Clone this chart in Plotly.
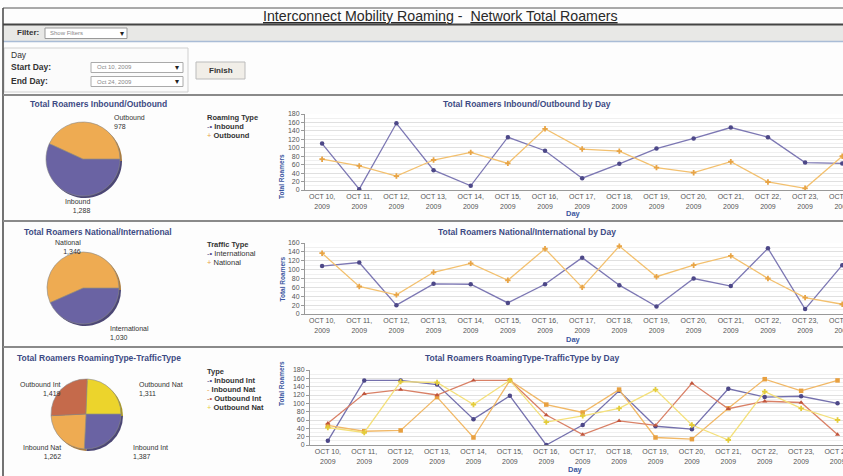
import plotly.graph_objects as go

W, H = 843, 476

# ---------------- data ----------------
day_labels = ["OCT 10,<br>2009", "OCT 11,<br>2009", "OCT 12,<br>2009", "OCT 13,<br>2009",
              "OCT 14,<br>2009", "OCT 15,<br>2009", "OCT 16,<br>2009", "OCT 17,<br>2009",
              "OCT 18,<br>2009", "OCT 19,<br>2009", "OCT 20,<br>2009", "OCT 21,<br>2009",
              "OCT 22,<br>2009", "OCT 23,<br>2009", "OCT 24,<br>2009"]

inbound = [110, 2, 158, 47, 10, 125, 93, 28, 62, 98, 122, 148, 125, 65, 63]
outbound = [73, 57, 33, 71, 89, 63, 145, 97, 92, 53, 41, 67, 19, 4, 80]

international = [108, 116, 20, 68, 67, 25, 67, 127, 65, 17, 80, 63, 148, 11, 110]
national = [137, 62, 43, 94, 114, 76, 147, 60, 153, 84, 110, 131, 80, 37, 22]

inbound_int = [10, 155, 155, 145, 62, 118, 0, 48, 130, 45, 38, 135, 115, 117, 100]
inbound_nat = [47, 33, 35, 115, 18, 155, 97, 78, 133, 18, 14, 88, 158, 130, 155]
outbound_int = [52, 123, 133, 120, 155, 155, 72, 25, 58, 47, 148, 87, 105, 102, 25]
outbound_nat = [42, 30, 152, 150, 97, 155, 55, 70, 88, 133, 48, 12, 128, 88, 60]

roaming_types = ["Inbound", "Outbound"]
roaming_totals = [1288, 978]
traffic_types = ["International", "National"]
traffic_totals = [1030, 1346]
combo_types = ["Inbound Int", "Inbound Nat", "Outbound Int", "Outbound Nat"]
combo_totals = [1387, 1262, 1419, 1311]

# ---------------- styling ----------------
FONT = "Liberation Sans"
PURPLE = "#6a63a3"
ORANGE = "#eeab52"
RED = "#c56a4b"
YELLOW = "#ecd42c"
NAVY = "#3d4b84"
BLUE = "#3a56a0"


def px(x):
    return x / W


def py(y):
    return 1 - y / H


def darker(hexc, f=0.75):
    h = hexc.lstrip("#")
    r, g, b = int(h[0:2], 16), int(h[2:4], 16), int(h[4:6], 16)
    return "#%02x%02x%02x" % (int(r * f), int(g * f), int(b * f))


fig = go.Figure()
annotations = []
shapes = []


def text(x, y, s, size=8, color="#333", bold=False, xanchor="left", align="left"):
    if bold:
        s = "<b>" + s + "</b>"
    annotations.append(dict(x=px(x), y=py(y), xref="paper", yref="paper", text=s,
                            showarrow=False, xanchor=xanchor, yanchor="middle", align=align,
                            font=dict(family=FONT, size=size, color=color)))


def rect(x0, y0, x1, y1, fill=None, line=None, lw=1):
    shapes.append(dict(type="rect", xref="paper", yref="paper",
                       x0=px(x0), x1=px(x1), y0=py(y1), y1=py(y0),
                       fillcolor=fill if fill else "rgba(0,0,0,0)",
                       line=dict(color=line if line else "rgba(0,0,0,0)", width=lw if line else 0),
                       layer="below"))


def hline(x0, x1, y, color, w):
    shapes.append(dict(type="line", xref="paper", yref="paper", x0=px(x0), x1=px(x1),
                       y0=py(y), y1=py(y), line=dict(color=color, width=w)))


def vline(x, y0, y1, color, w):
    shapes.append(dict(type="line", xref="paper", yref="paper", x0=px(x), x1=px(x),
                       y0=py(y0), y1=py(y1), line=dict(color=color, width=w)))


# ---------------- frame / header ----------------
rect(3, 25, 843, 41, fill="#e8e8e6")
hline(3, 843, 8, "#555", 1)
hline(3, 843, 24.5, "#444", 2)
hline(3, 843, 41.5, "#a9bcd6", 1.5)
vline(3, 8, 476, "#444", 1.5)
text(440, 16.5,
     '<span style="text-decoration:underline">Interconnect Mobility Roaming</span> -  '
     '<span style="text-decoration:underline">Network Total Roamers</span>',
     size=14.2, color="#2a2a2a", xanchor="center")

# filter bar
text(15, 33, "Filter:", size=8, bold=True, color="#333")
rect(45, 28, 127, 38.5, fill="white", line="#999")
text(48, 33.3, "Show Filters", size=6, color="#888")
text(122, 33.5, "▾", size=8, color="#222", xanchor="center")

# day box
rect(4, 48, 188, 92, fill="#fbfbfb", line="#cfcfcf")
text(9, 55, "Day", size=8.5, color="#333")
text(9, 67, "Start Day:", size=8.5, bold=True, color="#333")
text(9, 81, "End Day:", size=8.5, bold=True, color="#333")
rect(91, 62.5, 183, 72.5, fill="white", line="#aaa")
rect(91, 76.5, 183, 86.5, fill="white", line="#aaa")
text(95, 67.5, "Oct 10, 2009", size=6, color="#888")
text(95, 81.5, "Oct 24, 2009", size=6, color="#888")
text(177, 67.5, "▾", size=8, color="#222", xanchor="center")
text(177, 81.5, "▾", size=8, color="#222", xanchor="center")
rect(196, 62, 245, 79, fill="#f1eee8", line="#bbb")
text(220.5, 70.5, "Finish", size=8, bold=True, color="#333", xanchor="center")

# panel separators
for yy in (95, 221, 347):
    hline(3, 843, yy, "#8a8a8a", 2)


# ---------------- pies ----------------
def add_pie(labels, values, colors, cx, cy, r):
    # soft shadow rim
    fig.add_trace(go.Pie(labels=labels, values=values, sort=False, direction="clockwise",
                         rotation=90, textinfo="none", hoverinfo="skip",
                         marker=dict(colors=[darker(c, 0.72) for c in colors],
                                     line=dict(width=0)),
                         domain=dict(x=[px(cx - r + 2), px(cx + r + 2)],
                                     y=[py(cy + r + 2), py(cy - r + 2)]),
                         showlegend=False))
    fig.add_trace(go.Pie(labels=labels, values=values, sort=False, direction="clockwise",
                         rotation=90, textinfo="none",
                         marker=dict(colors=colors, line=dict(color="#888", width=0.6)),
                         domain=dict(x=[px(cx - r), px(cx + r)],
                                     y=[py(cy + r), py(cy - r)]),
                         showlegend=False))


add_pie(roaming_types, roaming_totals, [PURPLE, ORANGE], 83, 159, 37)
add_pie(traffic_types, traffic_totals, [PURPLE, ORANGE], 83, 288, 36)
add_pie(combo_types, combo_totals, [PURPLE, ORANGE, RED, YELLOW], 86, 414, 35)


def fmt(v):
    return f"{v:,}"


PL = 7
# pie 1 labels
text(112, 122, f"{roaming_types[1]}<br>{fmt(roaming_totals[1])}", size=PL, color="#333")
text(77, 206, f"{roaming_types[0]}<br>{fmt(roaming_totals[0])}", size=PL, color="#333",
     xanchor="center", align="right")
# pie 2 labels
text(68, 246.5, f"{traffic_types[1]}<br>{fmt(traffic_totals[1])}", size=PL, color="#333",
     xanchor="center", align="right")
text(108, 332.5, f"{traffic_types[0]}<br>{fmt(traffic_totals[0])}", size=PL, color="#333")
# pie 3 labels
text(63, 389, f"{combo_types[2]}<br>{fmt(combo_totals[2])}", size=PL, color="#333",
     xanchor="right", align="right")
text(137, 389, f"{combo_types[3]}<br>{fmt(combo_totals[3])}", size=PL, color="#333")
text(63, 452, f"{combo_types[1]}<br>{fmt(combo_totals[1])}", size=PL, color="#333",
     xanchor="right", align="right")
text(131, 452, f"{combo_types[0]}<br>{fmt(combo_totals[0])}", size=PL, color="#333")

# pie titles
text(28, 103.5, "Total Roamers Inbound/Outbound", size=8.5, bold=True, color=NAVY)
text(22, 231.5, "Total Roamers National/International", size=8.5, bold=True, color=NAVY)
text(15, 357.5, "Total Roamers RoamingType-TrafficType", size=8.5, bold=True, color=NAVY)


# legends (compact, as in the source dashboard)
def legend(x, y0, title, names, colors, symbols, bold_items, step=9.2):
    text(x, y0, title, size=7.5, bold=True, color="#333")
    for i, (n, c, s) in enumerate(zip(names, colors, symbols)):
        lab = f"<b>{n}</b>" if bold_items else n
        text(x, y0 + step * (i + 1),
             f'<span style="color:{c}">{s}</span> {lab}', size=7.5, color="#333")


legend(205, 117.5, "Roaming Type", roaming_types, ["#4d4888", "#e8a445"],
       ["-•", "+"], True)
legend(205, 244.5, "Traffic Type", traffic_types, ["#4d4888", "#e8a445"],
       ["-•", "+"], False)
legend(205, 371.5, "Type", combo_types, ["#4d4888", "#e8a040", "#c0553c", "#e8cf3a"],
       ["-•", "-", "-•", "+"], True, step=9.0)

# ---------------- line charts ----------------
x_idx = list(range(len(day_labels)))


def add_line(y, name, lc, mc, sym, axis):
    fig.add_trace(go.Scatter(x=x_idx, y=y, name=name, mode="lines+markers",
                             line=dict(color=lc, width=1.3),
                             marker=dict(color=mc, size=4.5, symbol=sym),
                             xaxis="x" + axis, yaxis="y" + axis, showlegend=False,
                             cliponaxis=True))


add_line(inbound, "Inbound", "#7c77b3", "#4d4888", "circle", "")
add_line(outbound, "Outbound", "#f3c06e", "#e8a445", "cross", "")
add_line(international, "International", "#7c77b3", "#4d4888", "circle", "2")
add_line(national, "National", "#f3c06e", "#e8a445", "cross", "2")
add_line(inbound_int, "Inbound Int", "#7470ad", "#4d4888", "circle", "3")
add_line(inbound_nat, "Inbound Nat", "#f1b866", "#e8a040", "square", "3")
add_line(outbound_int, "Outbound Int", "#d98066", "#c0553c", "triangle-up", "3")
add_line(outbound_nat, "Outbound Nat", "#f4e07a", "#e3cc3a", "cross", "3")

tickfont = dict(family=FONT, size=7, color="#555")


def xaxis(x0, rng, anchor):
    return dict(domain=[px(x0), 1], range=rng, tickmode="array", tickvals=x_idx,
                ticktext=day_labels, tickfont=tickfont, showgrid=False, zeroline=False,
                showline=True, linecolor="#999", linewidth=1, ticks="", anchor=anchor,
                ticklabeloverflow="allow", automargin=False, fixedrange=True)


def yaxis(y0, y1, top, anchor):
    return dict(domain=[py(y0), py(y1)], range=[0, top], dtick=20, tickfont=tickfont,
                showgrid=True, gridcolor="#e0e0e0", gridwidth=1, zeroline=False,
                minor=dict(dtick=10, showgrid=True, gridcolor="#f0f0f0", gridwidth=1),
                showline=True, linecolor="#999", linewidth=1, ticks="outside",
                ticklen=3, tickcolor="#999", anchor=anchor, automargin=False,
                fixedrange=True)


layout_axes = dict(
    xaxis=xaxis(305, [-0.46, 14.02], "y"),
    yaxis=yaxis(190, 114, 180, "x"),
    xaxis2=xaxis(305, [-0.46, 14.02], "y2"),
    yaxis2=yaxis(314, 243, 160, "x2"),
    xaxis3=xaxis(310, [-0.49, 14.15], "y3"),
    yaxis3=yaxis(445, 370, 180, "x3"),
)

# chart titles and axis titles
text(527, 103.5, "Total Roamers Inbound/Outbound by Day", size=8.5, bold=True, color=NAVY,
     xanchor="center")
text(527, 231.5, "Total Roamers National/International by Day", size=8.5, bold=True, color=NAVY,
     xanchor="center")
text(522, 358, "Total Roamers RoamingType-TrafficType by Day", size=8.5, bold=True, color=NAVY,
     xanchor="center")
for ymid in (152, 279, 408):
    annotations.append(dict(x=px(276), y=py(ymid), xref="paper", yref="paper",
                            text="<b>Total Roamers</b>", showarrow=False, textangle=-90,
                            font=dict(family=FONT, size=6.5, color=BLUE)))
text(573, 213.5, "Day", size=7.5, bold=True, color=BLUE, xanchor="center")
text(573, 339, "Day", size=7.5, bold=True, color=BLUE, xanchor="center")
text(575, 469.5, "Day", size=7.5, bold=True, color=BLUE, xanchor="center")

fig.update_layout(
    width=W, height=H, margin=dict(l=0, r=0, t=0, b=0, pad=0, autoexpand=False),
    paper_bgcolor="#fdfdfd", plot_bgcolor="white",
    font=dict(family=FONT),
    shapes=shapes, annotations=annotations,
    showlegend=False,
    **layout_axes,
)

fig.write_html("out.html",
               config={"displayModeBar": False, "responsive": False},
               post_script="document.documentElement.style.margin='0';"
                           "document.documentElement.style.overflow='hidden';"
                           "document.body.style.margin='0';document.body.style.padding='0';"
                           "document.body.style.overflow='hidden';")
